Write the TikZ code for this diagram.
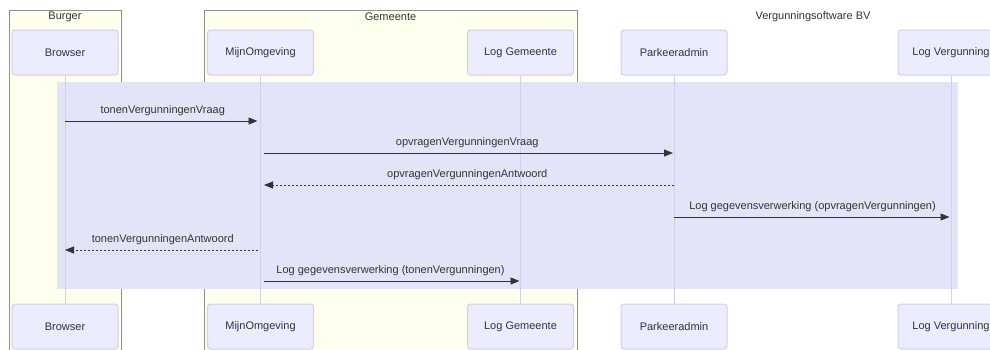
\documentclass[tikz,border=0pt]{standalone}
\usepackage{fontspec}
\setmainfont{Liberation Sans}
\usepackage{tikz}
\usetikzlibrary{positioning}
\usetikzlibrary{arrows.meta}

\definecolor{actorfill}{HTML}{ECECFF}
\definecolor{actorline}{HTML}{D6CCF2}
\definecolor{boxfill}{HTML}{FFFFEE}
\definecolor{boxline}{HTML}{8F8F8F}
\definecolor{rectfill}{HTML}{E4E4F8}
\definecolor{txt}{HTML}{333333}

\begin{document}
\begin{tikzpicture}[x=1pt, y=-1pt, node distance=228pt, font=\fontsize{11}{13}\selectfont, text=txt,
	actor/.style={draw=actorline, fill=actorfill, rounded corners=3pt, minimum width=106pt, minimum height=45pt, line width=1pt},
	lifeline/.style={draw=actorline, line width=1pt},
	msg/.style={draw=txt, line width=0.9pt, -{Triangle[length=9pt,width=7pt]}},
	reply/.style={msg, line width=0.8pt, dash pattern=on 2pt off 2pt},
	lbl/.style={midway, above=4.5pt, inner sep=0pt}]
			\useasboundingbox (0,0) rectangle (990,349);
			\clip (0,0) rectangle (990,349);
			
			% groepen
			\draw[boxline, fill=boxfill, line width=1pt] (9,10) rectangle (121,360);
			\draw[boxline, fill=boxfill, line width=1pt] (204,10) rectangle (577,360);
			\node (burger) at (65,17) {Burger};
			\node (gemeente) at (390.5,17) {Gemeente};
			\node (vergsoft) at (813,17) {Vergunningsoftware BV};
			
			% deelnemers boven
			\node[actor] (Browser) at (65,52.5) {Browser};
			\node[actor] (MijnOmgeving) at (260.5,52.5) {MijnOmgeving};
			\node[actor] (LogGemeente) at (520.5,52.5) {Log Gemeente};
			\node[actor] (Parkeeradmin) at (674,52.5) {Parkeeradmin};
			\node[actor] (LogVergunning) at (951,52.5) {Log Vergunning};
			
			% deelnemers onder
			\node[actor, below=of Browser] (BrowserB) {Browser};
			\node[actor, below=of MijnOmgeving] (MijnOmgevingB) {MijnOmgeving};
			\node[actor, below=of LogGemeente] (LogGemeenteB) {Log Gemeente};
			\node[actor, below=of Parkeeradmin] (ParkeeradminB) {Parkeeradmin};
			\node[actor, below=of LogVergunning] (LogVergunningB) {Log Vergunning};
			
			\fill[rectfill] (57,82) rectangle (958,289);   % rect achtergrond
			
			\draw[lifeline] (Browser) -- (BrowserB);
			\draw[lifeline] (MijnOmgeving) -- (MijnOmgevingB);
			\draw[lifeline] (LogGemeente) -- (LogGemeenteB);
			\draw[lifeline] (Parkeeradmin) -- (ParkeeradminB);
			\draw[lifeline] (LogVergunning) -- (LogVergunningB);
			
			\coordinate (r1) at (0,121);
			\coordinate (r2) at (0,153);
			\coordinate (r3) at (0,185);
			\coordinate (r4) at (0,217);
			\coordinate (r5) at (0,250);
			\coordinate (r6) at (0,281);
			
			\draw[msg, shorten >=3pt] (Browser |- r1) -- (MijnOmgeving |- r1) node[lbl] {tonenVergunningenVraag};
			\draw[msg, shorten <=3.5pt, shorten >=1pt] (MijnOmgeving |- r2) -- (Parkeeradmin |- r2) node[lbl] {opvragenVergunningenVraag};
			\draw[reply, shorten >=3.5pt] (Parkeeradmin |- r3) -- (MijnOmgeving |- r3) node[lbl] {opvragenVergunningenAntwoord};
			\draw[msg, shorten >=1.5pt] (Parkeeradmin |- r4) -- (LogVergunning |- r4) node[lbl] {Log gegevensverwerking (opvragenVergunningen)};
			\draw[reply, shorten <=3pt] (MijnOmgeving |- r5) -- (Browser |- r5) node[lbl] {tonenVergunningenAntwoord};
			\draw[msg, shorten <=3.5pt, shorten >=1pt] (MijnOmgeving |- r6) -- (LogGemeente |- r6) node[lbl] {Log gegevensverwerking (tonenVergunningen)};
		\end{tikzpicture}
\end{document}
